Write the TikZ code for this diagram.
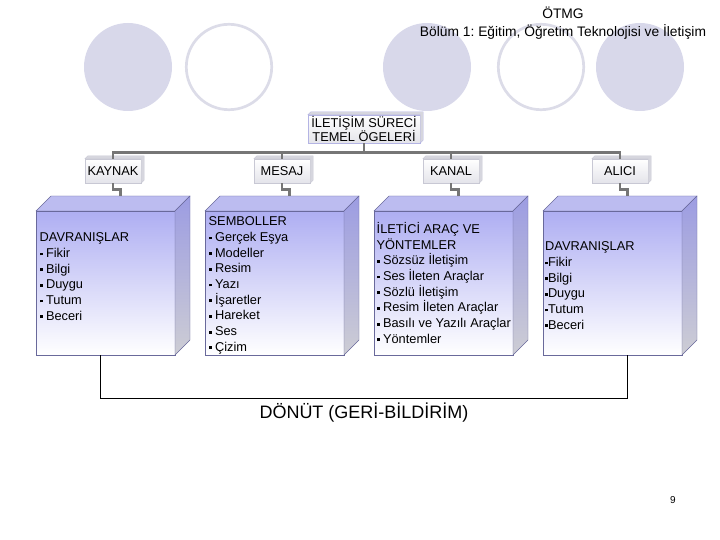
\documentclass[tikz,border=0pt]{standalone}
\usepackage{fontspec}
\setmainfont{Liberation Sans}
\frenchspacing

\definecolor{discfill}{RGB}{216,216,234}
\definecolor{ringgray}{RGB}{220,220,232}
\definecolor{facetop}{RGB}{174,174,242}
\definecolor{lidfill}{RGB}{188,188,240}
\definecolor{sidetop}{RGB}{156,156,226}
\definecolor{sidebot}{RGB}{205,205,212}
\definecolor{edgeblue}{RGB}{105,105,155}
\definecolor{conngray}{RGB}{118,118,118}
\definecolor{tagbot}{RGB}{228,228,234}
\definecolor{tagedge}{RGB}{200,200,212}
\definecolor{tagside}{RGB}{214,214,222}
\definecolor{rootedge}{RGB}{180,180,228}

\newcommand{\sqb}{\rule[2pt]{2.8pt}{2.8pt}}

\tikzset{
  conn/.style={draw=conngray, line width=2.8pt},
  tagbox/.style={draw=tagedge, top color=white, bottom color=tagbot, inner sep=0pt,
    minimum width=56pt, minimum height=24pt, font=\fontsize{12.8}{13}\selectfont},
  boxtext/.style={anchor=north west, align=left, inner sep=0pt,
    font=\fontsize{12.8}{15.7}\selectfont}
}

\begin{document}
\begin{tikzpicture}[x=1pt,y=-1pt]
\useasboundingbox (0,0) rectangle (720,540);

% Decorative discs and rings
\foreach \cx in {128,427,640} \fill[discfill] (\cx,67) circle (44pt);
\foreach \cx in {229,541} \draw[ringgray, line width=2.7pt] (\cx,67) circle (42.7pt);

% Slide header
\node[align=center, font=\fontsize{13.8}{18.5}\selectfont] (hdr) at (563,23)
  {ÖTMG\\Bölüm 1: Eğitim, Öğretim Teknolojisi ve İletişim};

% Root box
\node[tagbox, draw=rootedge, align=center, minimum width=112pt, minimum height=28pt] (root) at (364,129)
  {İLETİŞİM SÜRECİ\\TEMEL ÖGELERİ};
\filldraw[fill=tagside, draw=rootedge] (root.north west) -- ++(3,-3) -- ([shift={(3,-3)}]root.north east)
  -- ([shift={(3,-3)}]root.south east) -- (root.south east) -- (root.north east) -- cycle;

% Four columns: 3D box, tag and connectors
\foreach \tag [count=\i from 0] in {KAYNAK,MESAJ,KANAL,ALICI} {
  \pgfmathsetmacro{\bx}{36+169*\i}
  \shadedraw[top color=facetop, bottom color=white, draw=edgeblue] (\bx,211) rectangle ++(139,144);
  \filldraw[fill=lidfill, draw=edgeblue] (\bx,211) -- ++(15,-15) -- ++(139,0) -- ++(-15,15) -- cycle;
  \shadedraw[top color=sidetop, bottom color=sidebot, draw=edgeblue]
    (\bx+139,211) -- ++(15,-15) -- ++(0,144) -- ++(-15,15) -- cycle;
  \coordinate (lid\i) at (\bx+84.5,196);
  \node[tagbox] (tag\i) at (\bx+77,171) {\tag};
  \filldraw[fill=tagside, draw=tagedge] (tag\i.north west) -- ++(3,-3) -- ([shift={(3,-3)}]tag\i.north east)
    -- ([shift={(3,-3)}]tag\i.south east) -- (tag\i.south east) -- (tag\i.north east) -- cycle;
  \draw[conn] (root.south) -- ++(0,9) -| (tag\i.north);
  \draw[conn] (tag\i.south) -- ++(0,6) -| (lid\i);
}

% Box contents
\node[boxtext] (txt0) at (39.5,232.5) {DAVRANIŞLAR\\\sqb\ Fikir\\\sqb\ Bilgi\\\sqb\ Duygu\\\sqb\ Tutum\\\sqb\ Beceri};
\node[boxtext] (txt1) at (208.5,216.5) {SEMBOLLER\\\sqb\ Gerçek Eşya\\\sqb\ Modeller\\\sqb\ Resim\\\sqb\ Yazı\\\sqb\ İşaretler\\\sqb\ Hareket\\\sqb\ Ses\\\sqb\ Çizim};
\node[boxtext] (txt2) at (376.5,222) {İLETİCİ ARAÇ VE\\YÖNTEMLER\\\sqb\ Sözsüz İletişim\\\sqb\ Ses İleten Araçlar\\\sqb\ Sözlü İletişim\\\sqb\ Resim İleten Araçlar\\\sqb\ Basılı ve Yazılı Araçlar\\\sqb\ Yöntemler};
\node[boxtext] (txt3) at (545,241.5) {DAVRANIŞLAR\\\sqb Fikir\\\sqb Bilgi\\\sqb Duygu\\\sqb Tutum\\\sqb Beceri};

% Feedback loop
\coordinate (fbL) at (100,355);
\coordinate (fbR) at (627,355);
\draw[line width=0.9pt] (fbL) -- ++(0,43) -| (fbR);
\node[font=\fontsize{18}{20}\selectfont] (fb) at (364,413) {DÖNÜT (GERİ-BİLDİRİM)};

% Page number
\node[font=\fontsize{10}{12}\selectfont] (pgno) at (673,500) {9};

\end{tikzpicture}
\end{document}
